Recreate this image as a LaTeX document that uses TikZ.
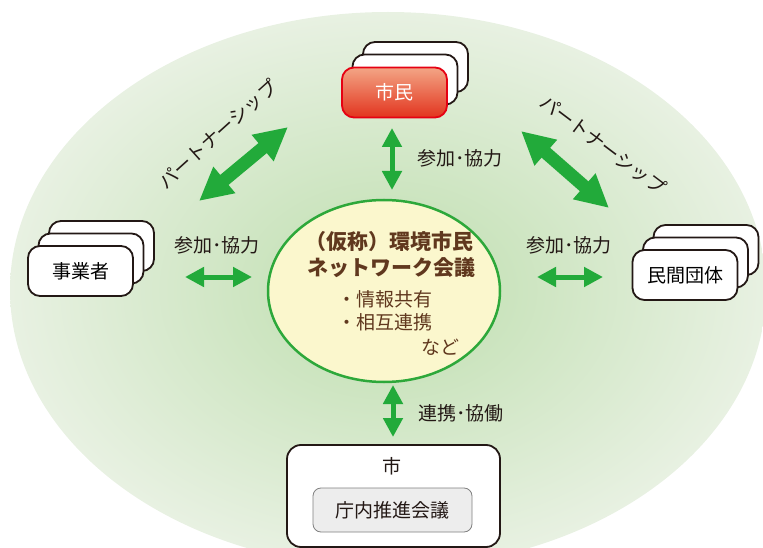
\documentclass[tikz,border=0pt]{standalone}
\usepackage{fontspec}
\setmainfont{Noto Sans CJK JP}
\usetikzlibrary{shapes.geometric,arrows.meta}

\definecolor{bgin}{RGB}{190,222,174}
\definecolor{bgout}{RGB}{232,241,226}
\definecolor{arrowgreen}{RGB}{34,170,58}
\definecolor{ringgreen}{RGB}{45,168,58}
\definecolor{netfill}{RGB}{251,247,205}
\definecolor{brown}{RGB}{96,56,30}
\definecolor{redtop}{RGB}{243,165,133}
\definecolor{redbot}{RGB}{226,52,30}
\definecolor{redline}{RGB}{230,0,18}
\definecolor{ink}{RGB}{35,24,21}

\tikzset{
  card/.style={draw=ink,line width=1.8pt,rounded corners=12pt,fill=white,
    minimum width=105pt,minimum height=50pt,font=\fontsize{19}{22}\selectfont},
  garrow/.style={draw=arrowgreen,line width=5pt,
    arrows={Triangle[width=19pt,length=19pt]-Triangle[width=19pt,length=19pt]}},
  bigarrow/.style={draw=arrowgreen,line width=13pt,
    arrows={Triangle[width=32pt,length=33pt]-Triangle[width=32pt,length=33pt]}},
  lbl/.style={text=ink,font=\fontsize{19}{22}\selectfont},
  nettext/.style={text=brown,font=\fontsize{21}{24}\selectfont\bfseries}
}

\begin{document}
\begin{tikzpicture}[x=1pt,y=-1pt]
\useasboundingbox (0,0) rectangle (763,548);
\clip (0,0) rectangle (763,548);
\shade[inner color=bgin,outer color=bgout] (388,290) ellipse [x radius=378,y radius=278];

% centre
\node [ellipse,draw=ringgreen,line width=2.5pt,fill=netfill,
       minimum width=232pt,minimum height=182pt] (net) at (384,291) {};
\node [nettext] (title1) at (389,242) {（仮称）環境市民};
\node [nettext] (title2) at (391,268) {ネットワーク会議};
\node [text=brown,font=\fontsize{19}{23}\selectfont,align=left,anchor=west]
      (items) at (334,311) {・情報共有\\・相互連携};
\node [text=brown,font=\fontsize{19}{22}\selectfont] (nado) at (440,347) {など};

% citizens
\node [card] (shimin3) at (415.5,67) {};
\node [card] (shimin2) at (405,79.5) {};
\node [card,draw=redline,top color=redtop,bottom color=redbot,text=white]
      (shimin) at (394.5,92.5) {市民};

% businesses
\node [card] (jigyo3) at (101.5,246) {};
\node [card] (jigyo2) at (91,258.5) {};
\node [card] (jigyo) at (80.5,271) {事業者};

% private groups
\node [card] (minkan3) at (706,250) {};
\node [card] (minkan2) at (695.5,262.5) {};
\node [card] (minkan) at (685,275) {民間団体};

% city
\node [draw=ink,line width=1.8pt,rounded corners=14pt,fill=white,
       minimum width=213pt,minimum height=102pt] (shi) at (393.5,496) {};
\node [text=ink,font=\fontsize{19}{20}\selectfont] (shilabel) at (392,466) {市};
\node [draw=gray,line width=0.8pt,rounded corners=8pt,fill=black!7,
       minimum width=159pt,minimum height=44pt,text=ink,
       font=\fontsize{19}{22}\selectfont] (chonai) at (392.5,510) {庁内推進会議};

% arrow ends
\coordinate (topA) at (392,128);
\coordinate (topB) at (392,190);
\coordinate (leftA) at (185,277);
\coordinate (leftB) at (252,277);
\coordinate (rightA) at (537,277);
\coordinate (rightB) at (603,277);
\coordinate (botA) at (393,385);
\coordinate (botB) at (393,437);
\coordinate (ulA) at (199,201);
\coordinate (ulB) at (288,127);
\coordinate (urA) at (521,131);
\coordinate (urB) at (609,208);

\draw [garrow] (topA) -- (topB);
\draw [garrow] (leftA) -- (leftB);
\draw [garrow] (rightA) -- (rightB);
\draw [garrow] (botA) -- (botB);
\draw [bigarrow] (ulA) -- (ulB);
\draw [bigarrow] (urA) -- (urB);

\node [lbl] (sanka1) at (460,158) {参加･協力};
\node [lbl] (sanka2) at (217,245) {参加･協力};
\node [lbl] (sanka3) at (569,245) {参加･協力};
\node [lbl] (renkei) at (461,413) {連携･協働};
\node [lbl,rotate=42] (partner1) at (218,134) {パートナーシップ};
\node [lbl,rotate=-37] (partner2) at (603,145) {パートナーシップ};
\end{tikzpicture}
\end{document}
